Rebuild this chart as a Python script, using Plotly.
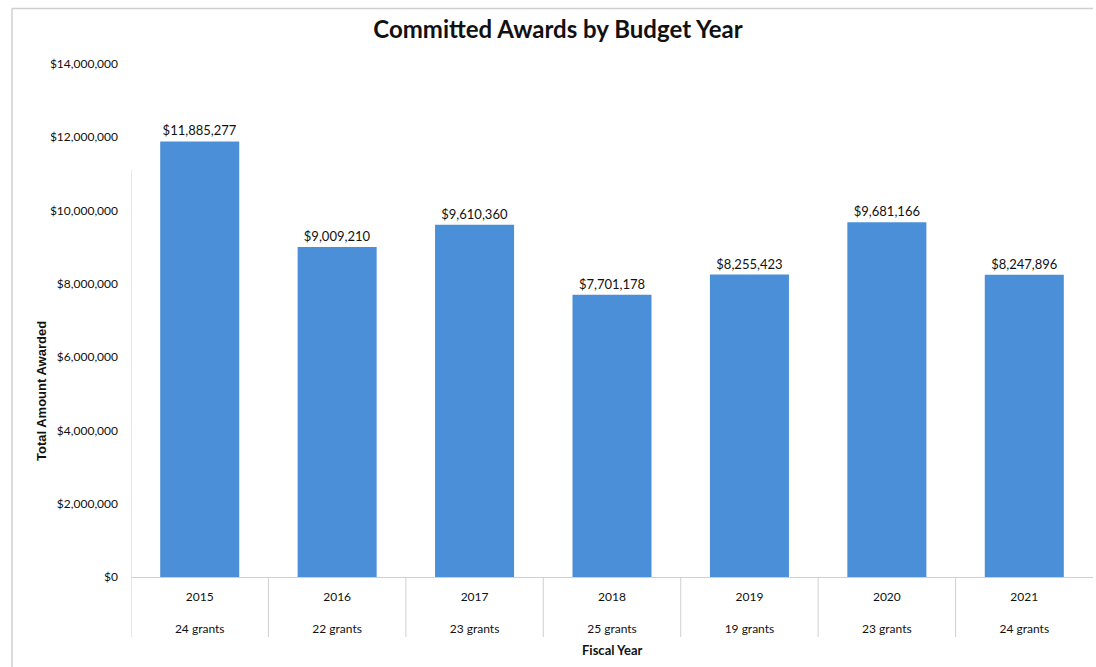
import plotly.graph_objects as go

# Committed award totals per fiscal year
years = ["2015", "2016", "2017", "2018", "2019", "2020", "2021"]
grant_counts = [24, 22, 23, 25, 19, 23, 24]
totals = [11885277, 9009210, 9610360, 7701178, 8255423, 9681166, 8247896]

y_ticks = [0, 2000000, 4000000, 6000000, 8000000, 10000000, 12000000, 14000000]

W, H = 1096, 667
ML, MR, MT, MB = 131, 3, 64, 90
FONT = "Lato, Carlito, Calibri, sans-serif"
plot_h = H - MT - MB
plot_w = W - ML - MR

positions = list(range(len(years)))
tick_text = [f"{y}<br><br>{n} grants" for y, n in zip(years, grant_counts)]
bar_labels = [f"${v:,.0f}" for v in totals]

fig = go.Figure(
    go.Bar(
        x=positions,
        y=totals,
        width=0.575,
        marker=dict(color="#4A8FD8", line=dict(width=0)),
        text=bar_labels,
        textposition="outside",
        textfont=dict(family=FONT, size=13, color="#111111"),
        cliponaxis=False,
    )
)

GRID = "#d0d0d0"
shapes = []
# category dividers below the baseline
for i in positions:
    shapes.append(dict(
        type="line", xref="x", yref="paper",
        x0=i - 0.5, x1=i - 0.5, y0=0, y1=-60 / plot_h,
        line=dict(color=GRID, width=1),
    ))
# value axis line (lower part of the plot area)
shapes.append(dict(
    type="line", xref="x", yref="paper",
    x0=-0.5, x1=-0.5, y0=0, y1=(H - MB - 170) / plot_h,
    line=dict(color=GRID, width=1),
))
# outer chart border (top and left)
bx = (12 - ML) / plot_w
by = 1 + (MT - 8.5) / plot_h
shapes.append(dict(
    type="line", xref="paper", yref="paper",
    x0=bx, x1=1.0, y0=by, y1=by,
    line=dict(color=GRID, width=1.5),
))
shapes.append(dict(
    type="line", xref="paper", yref="paper",
    x0=bx, x1=bx, y0=by, y1=-MB / plot_h,
    line=dict(color=GRID, width=1.5),
))

fig.update_layout(
    width=W,
    height=H,
    margin=dict(l=ML, r=MR, t=MT, b=MB),
    paper_bgcolor="white",
    plot_bgcolor="white",
    showlegend=False,
    bargap=0.425,
    font=dict(family=FONT, size=12, color="#111111"),
    title=dict(
        text="<b>Committed Awards by Budget Year</b>",
        x=558 / W, xanchor="center",
        y=1 - 30 / H, yanchor="middle",
        font=dict(family=FONT, size=24, color="#111111"),
    ),
    xaxis=dict(
        range=[-0.5, len(years) - 0.5],
        tickmode="array",
        tickvals=positions,
        ticktext=tick_text,
        ticks="",
        showgrid=False,
        zeroline=False,
        showline=True,
        linecolor=GRID,
        linewidth=1,
        ticklabelstandoff=9,
        tickfont=dict(family=FONT, size=12, color="#111111"),
    ),
    yaxis=dict(
        range=[0, 14000000],
        tickmode="array",
        tickvals=y_ticks,
        ticktext=[f"${v:,.0f}" for v in y_ticks],
        showgrid=False,
        zeroline=False,
        showline=False,
        ticks="",
        ticklabelstandoff=12,
        tickfont=dict(family=FONT, size=12, color="#111111"),
    ),
    shapes=shapes,
    annotations=[
        dict(
            text="<b>Fiscal Year</b>",
            xref="paper", yref="paper",
            x=(612 - ML) / plot_w, y=-(650 - (H - MB)) / plot_h,
            xanchor="center", yanchor="middle",
            showarrow=False,
            font=dict(family=FONT, size=13, color="#111111"),
        ),
        dict(
            text="<b>Total Amount Awarded</b>",
            xref="paper", yref="paper",
            x=(41 - ML) / plot_w, y=((H - MB) - 391) / plot_h,
            xanchor="center", yanchor="middle",
            textangle=-90,
            showarrow=False,
            font=dict(family="Liberation Sans, Arial, sans-serif", size=13, color="#111111"),
        ),
    ],
)

fig.write_html("out.html")
